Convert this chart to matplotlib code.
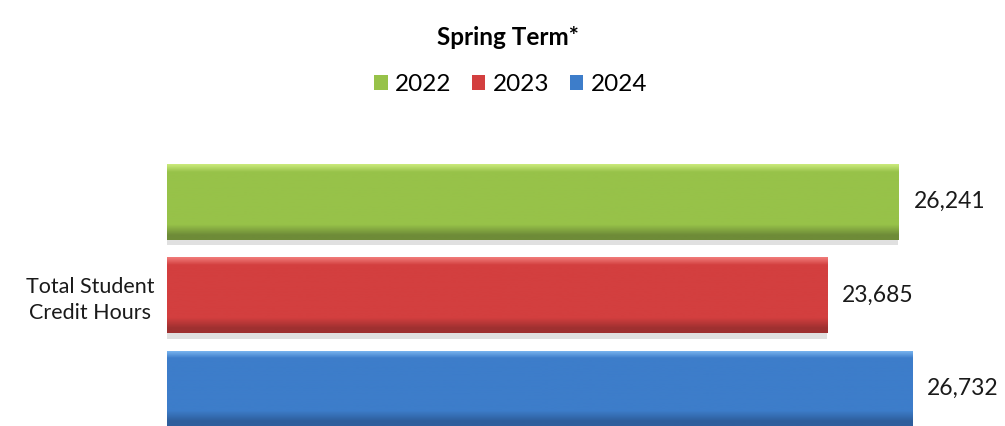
import numpy as np
import matplotlib
matplotlib.use('Agg')
from matplotlib import pyplot as plt
from matplotlib import patheffects as pe
from matplotlib.colors import LinearSegmentedColormap

years = ['2022', '2023', '2024']
hours = [26241, 23685, 26732]
category = 'Total Student\nCredit Hours'
# base, top highlight, bottom shade
colors = ['#97C249', '#D33F3F', '#3D7DCA']
lights = ['#C9E97A', '#F07A78', '#7DB8F2']
darks = ['#6E8B38', '#9E3030', '#2E5E9C']

plt.rcParams['font.family'] = ['Lato', 'DejaVu Sans']

fig = plt.figure(figsize=(10.05, 4.26), dpi=100)
ax = fig.add_axes([0.166, 0.0, 0.832, 0.636])

pos = [2, 1, 0]
bars = ax.barh(pos, hours, height=0.81, color=colors, edgecolor='none')

for i, b in enumerate(bars):
    b.set_path_effects([pe.SimplePatchShadow(offset=(0, -4), shadow_rgbFace='#e0e0e0', alpha=1.0),
                        pe.Normal()])
    cmap = LinearSegmentedColormap.from_list('g%d' % i,
                                             [(0, lights[i]), (0.1, colors[i]), (0.8, colors[i]),
                                              (0.94, darks[i]), (1, darks[i])])
    grad = np.linspace(0, 1, 100).reshape(-1, 1)
    x0, y0 = b.get_x(), b.get_y()
    w, h = b.get_width(), b.get_height()
    im = ax.imshow(grad, cmap=cmap, aspect='auto', extent=[x0, x0 + w, y0, y0 + h],
                   origin='upper', zorder=2)
    im.set_clip_path(b)
    ax.text(w + 550, pos[i], f'{w:,}', va='center', ha='left', fontsize=16.5, color='#1a1a1a')

ax.set_xlim(0, 30000)
ax.set_ylim(-0.4, 2.5)
ax.set_yticks([1])
ax.set_yticklabels([category], fontsize=15.5, color='#1a1a1a', ha='right',
                   multialignment='center', linespacing=1.35)
ax.tick_params(axis='y', length=0, pad=9)
ax.set_xticks([])
for s in ax.spines.values():
    s.set_visible(False)

fig.text(0.505, 0.913, 'Spring Term*', ha='center', va='center', fontsize=17.5, fontweight='bold')
leg = fig.legend(bars, years, loc='center', bbox_to_anchor=(0.508, 0.802), ncol=3, frameon=False,
                 fontsize=17.5, handlelength=0.55, handleheight=0.55, handletextpad=0.3,
                 columnspacing=0.85)
for h in leg.legend_handles:
    h.set_path_effects([])

fig.savefig('out.png', dpi=100)
